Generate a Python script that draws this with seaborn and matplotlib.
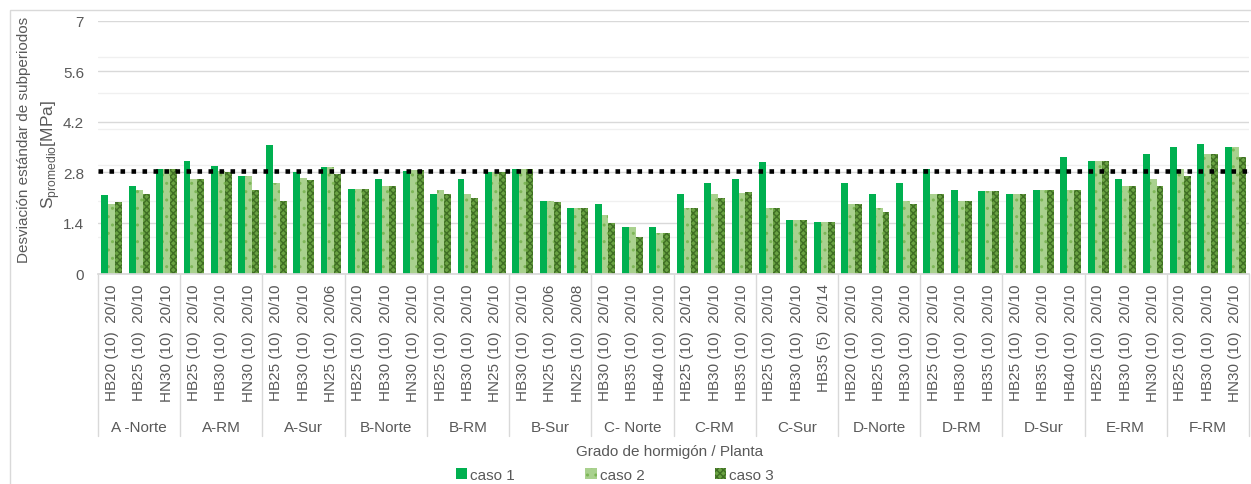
import numpy as np
import pandas as pd
import matplotlib
matplotlib.use("Agg")
import matplotlib.pyplot as plt
from matplotlib.patches import Rectangle, Patch
from matplotlib.ticker import FixedLocator
import seaborn as sns

groups = ["A -Norte", "A-RM", "A-Sur", "B-Norte", "B-RM", "B-Sur", "C- Norte",
          "C-RM", "C-Sur", "D-Norte", "D-RM", "D-Sur", "E-RM", "F-RM"]
grades = [
    ["HB20 (10)  20/10", "HB25 (10)  20/10", "HN30 (10)  20/10"],
    ["HB25 (10)  20/10", "HB30 (10)  20/10", "HN30 (10)  20/10"],
    ["HB25 (10)  20/10", "HB30 (10)  20/10", "HN25 (10)  20/06"],
    ["HB25 (10)  20/10", "HB30 (10)  20/10", "HN30 (10)  20/10"],
    ["HB25 (10)  20/10", "HB30 (10)  20/10", "HN25 (10)  20/10"],
    ["HB30 (10)  20/10", "HN25 (10)  20/06", "HN25 (10)  20/08"],
    ["HB30 (10)  20/10", "HB35 (10)  20/10", "HB40 (10)  20/10"],
    ["HB25 (10)  20/10", "HB30 (10)  20/10", "HB35 (10)  20/10"],
    ["HB25 (10)  20/10", "HB30 (10)  20/10", "HB35 (5)  20/14"],
    ["HB20 (10)  20/10", "HB25 (10)  20/10", "HB30 (10)  20/10"],
    ["HB25 (10)  20/10", "HB30 (10)  20/10", "HB35 (10)  20/10"],
    ["HB25 (10)  20/10", "HB35 (10)  20/10", "HB40 (10)  20/10"],
    ["HB25 (10)  20/10", "HB30 (10)  20/10", "HN30 (10)  20/10"],
    ["HB25 (10)  20/10", "HB30 (10)  20/10", "HN30 (10)  20/10"],
]
caso1 = [2.16, 2.41, 2.90, 3.11, 2.98, 2.70, 3.56, 2.81, 2.95, 2.35, 2.61, 2.84,
         2.19, 2.61, 2.80, 2.89, 2.01, 1.81, 1.91, 1.30, 1.30, 2.19, 2.51, 2.61,
         3.09, 1.49, 1.43, 2.51, 2.19, 2.51, 2.89, 2.32, 2.28, 2.19, 2.32, 3.21,
         3.11, 2.61, 3.31, 3.50, 3.59, 3.50]
caso2 = [1.93, 2.32, 2.90, 2.61, 2.84, 2.70, 2.51, 2.63, 2.95, 2.35, 2.41, 2.86,
         2.32, 2.19, 2.80, 2.89, 2.01, 1.81, 1.62, 1.30, 1.11, 1.81, 2.19, 2.23,
         1.81, 1.49, 1.43, 1.91, 1.81, 2.01, 2.19, 2.01, 2.28, 2.19, 2.32, 2.32,
         3.11, 2.41, 2.61, 2.89, 3.31, 3.50]
caso3 = [1.97, 2.19, 2.90, 2.61, 2.81, 2.32, 2.01, 2.58, 2.76, 2.35, 2.41, 2.86,
         2.19, 2.10, 2.80, 2.89, 1.97, 1.81, 1.40, 1.01, 1.11, 1.81, 2.10, 2.26,
         1.81, 1.49, 1.43, 1.91, 1.71, 1.91, 2.19, 2.01, 2.28, 2.19, 2.32, 2.32,
         3.11, 2.41, 2.41, 2.70, 3.31, 3.21]
case_names = ["caso 1", "caso 2", "caso 3"]
threshold = 2.84
yticks = [0, 1.4, 2.8, 4.2, 5.6, 7]

labels = [g for row in grades for g in row]
keys = [f"{i:02d}" for i in range(len(labels))]
df = pd.DataFrame({
    "key": keys * 3,
    "valor": caso1 + caso2 + caso3,
    "caso": [c for c in case_names for _ in keys],
})

sns.set_theme(style="white")
plt.rcParams["font.family"] = ["Liberation Sans", "DejaVu Sans"]
plt.rcParams["hatch.linewidth"] = 1.0
gray = "#595959"

W, H = 1251, 485
fig = plt.figure(figsize=(W / 100, H / 100), dpi=100)
left, right, top, bottom = 98, 1249, 21.5, 274.5
ax = fig.add_axes([left / W, 1 - bottom / H, (right - left) / W, (bottom - top) / H])

face = {"caso 1": "#00B050", "caso 2": "#A9D18E", "caso 3": "#6AA343"}
sns.barplot(data=df, x="key", y="valor", hue="caso", order=keys,
            hue_order=case_names, palette=face, width=0.76, saturation=1,
            ax=ax, legend=False)

hatch_cfg = {"caso 1": (None, "#00B050"), "caso 2": ("..", "#7DB657"),
             "caso 3": ("xxxxx", "#3F6E24")}
for cont, name in zip(ax.containers, case_names):
    h, ec = hatch_cfg[name]
    for p in cont:
        p.set_linewidth(0)
        if h:
            p.set_hatch(h)
            p.set_edgecolor(ec)

ax.set_ylim(0, 7)
ax.set_xlim(-0.5, len(labels) - 0.5)
ax.set_yticks(yticks)
ax.set_yticklabels([f"{t:g}" for t in yticks])
ax.yaxis.set_minor_locator(FixedLocator([1, 2, 3, 4, 5, 6]))
ax.grid(axis="y", which="major", color="#D9D9D9", lw=1)
ax.grid(axis="y", which="minor", color="#F0F0F0", lw=1)
ax.set_axisbelow(True)
for s in ["left", "right", "top"]:
    ax.spines[s].set_visible(False)
ax.spines["bottom"].set_color("#D9D9D9")
ax.tick_params(axis="y", which="both", length=0, pad=10, labelsize=11, labelcolor=gray)
ax.tick_params(axis="x", length=0, pad=7, labelsize=11, labelcolor=gray)
ax.set_xticks(range(len(labels)))
ax.set_xticklabels(labels, rotation=90, va="top", ha="center")
ax.set_xlabel("")
ax.set_ylabel("")

ax.axhline(threshold, color="black", lw=3.3, dashes=(1, 1.4), zorder=5)

trans = ax.get_xaxis_transform()
sep_bottom = -(437 - bottom) / (bottom - top)
lab_y = -(428 - bottom) / (bottom - top)
for i in range(len(groups) + 1):
    ax.plot([i * 3 - 0.5, i * 3 - 0.5], [0, sep_bottom], color="#D9D9D9",
            lw=1, transform=trans, clip_on=False)
for i, g in enumerate(groups):
    ax.text(i * 3 + 1, lab_y, g, transform=trans, ha="center", va="center",
            fontsize=11, color=gray)

fig.text(670 / W, 1 - 452 / H, "Grado de hormigón / Planta", ha="center",
         va="center", fontsize=11, color=gray)
fig.text(24 / W, 1 - 140 / H, "Desviación estándar de subperiodos",
         rotation=90, ha="center", va="center", fontsize=11, color=gray)
fig.text(51 / W, 1 - 154 / H, r"S$_{\mathregular{promedio}}$[MPa]",
         rotation=90, ha="center", va="center", fontsize=12.5, color=gray)

handles = []
for name in case_names:
    h, ec = hatch_cfg[name]
    handles.append(Patch(facecolor=face[name], edgecolor=ec if h else face[name],
                         hatch=h, lw=0))
fig.legend(handles, case_names, loc="center", bbox_to_anchor=(615 / W, 1 - 476 / H),
           ncol=3, frameon=False, fontsize=11, labelcolor=gray,
           handlelength=0.75, handleheight=0.75, handletextpad=0.2,
           columnspacing=4.6)

fig.patches.append(Rectangle((10 / W, -0.01), (W + 20) / W, 1 - 11 / H + 0.01,
                             transform=fig.transFigure, fill=False,
                             edgecolor="#D9D9D9", lw=1))

fig.savefig("out.png", dpi=100)
